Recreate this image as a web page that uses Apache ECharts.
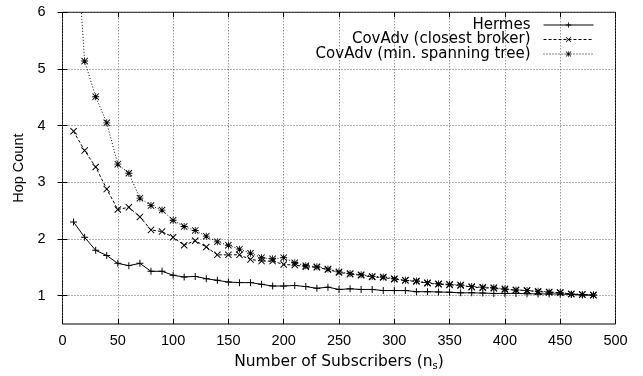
<!DOCTYPE html>
<html>
<head>
<meta charset="utf-8">
<script src="https://cdn.jsdelivr.net/npm/echarts@6/dist/echarts.min.js"></script>
<style>
  html, body { margin: 0; padding: 0; background: #fff; }
  #chart { width: 643px; height: 376px; }
</style>
</head>
<body>
<div id="chart"></div>
<script>
// subscribers on the x axis
const subscribers = [10, 20, 30, 40, 50, 60, 70, 80, 90, 100,
    110, 120, 130, 140, 150, 160, 170, 180, 190, 200,
    210, 220, 230, 240, 250, 260, 270, 280, 290, 300,
    310, 320, 330, 340, 350, 360, 370, 380, 390, 400,
    410, 420, 430, 440, 450, 460, 470, 480];

const hermes = [2.30, 2.03, 1.80, 1.71, 1.57, 1.53, 1.57, 1.43, 1.43, 1.36,
    1.33, 1.34, 1.30, 1.27, 1.24, 1.23, 1.23, 1.20, 1.17, 1.17,
    1.18, 1.16, 1.13, 1.15, 1.11, 1.12, 1.11, 1.11, 1.09, 1.09,
    1.09, 1.07, 1.07, 1.065, 1.06, 1.05, 1.05, 1.045, 1.04, 1.04,
    1.04, 1.035, 1.03, 1.03, 1.03, 1.02, 1.01, 1.01];

const covAdvClosest = [3.90, 3.56, 3.27, 2.88, 2.52, 2.56, 2.39, 2.16, 2.13, 2.03,
    1.89, 1.97, 1.86, 1.72, 1.72, 1.72, 1.64, 1.61, 1.61, 1.55,
    1.54, 1.51, 1.50, 1.46, 1.41, 1.38, 1.36, 1.33, 1.32, 1.29,
    1.27, 1.25, 1.22, 1.20, 1.19, 1.18, 1.15, 1.14, 1.13, 1.11,
    1.10, 1.09, 1.07, 1.06, 1.05, 1.03, 1.02, 1.01];

const covAdvMst = [8.05, 5.14, 4.51, 4.05, 3.32, 3.16, 2.72, 2.59, 2.51, 2.33,
    2.22, 2.15, 2.05, 1.95, 1.89, 1.82, 1.75, 1.67, 1.65, 1.67,
    1.58, 1.53, 1.51, 1.47, 1.42, 1.39, 1.37, 1.34, 1.33, 1.30,
    1.27, 1.26, 1.23, 1.21, 1.20, 1.19, 1.16, 1.15, 1.14, 1.12,
    1.10, 1.09, 1.08, 1.065, 1.055, 1.03, 1.02, 1.01];

const yTicks = [1, 2, 3, 4, 5, 6];
const seriesNames = ['Hermes', 'CovAdv (closest broker)', 'CovAdv (min. spanning tree)'];

const FONT = 'Liberation Sans';
const WIDE_FONT = 'DejaVu Sans';

// gnuplot style point marks
const PLUS = 'path://M4.3,0 H5.7 V4.3 H10 V5.7 H5.7 V10 H4.3 V5.7 H0 V4.3 H4.3 Z';
const CROSS = 'path://M0,1 L1,0 L5,4 L9,0 L10,1 L6,5 L10,9 L9,10 L5,6 L1,10 L0,9 L4,5 Z';
const STAR = 'path://M4.4,0 H5.6 V4.4 H10 V5.6 H5.6 V10 H4.4 V5.6 H0 V4.4 H4.4 Z M0,0.9 L0.9,0 L5,4.1 L9.1,0 L10,0.9 L5.9,5 L10,9.1 L9.1,10 L5,5.9 L0.9,10 L0,9.1 L4.1,5 Z';

function pairs(vals) {
    return subscribers.map((x, i) => [x, vals[i]]);
}

const chart = echarts.init(document.getElementById('chart'));

const dotted = { color: '#666', width: 1, type: [1, 2] };

function legendFor(name, top) {
    return {
        data: [name],
        right: 49,
        top: top,
        padding: 0,
        align: 'right',
        itemWidth: 50,
        itemHeight: 7,
        selectedMode: false,
        lineStyle: { width: 1 },
        textStyle: {
            fontFamily: WIDE_FONT, fontSize: 15, color: '#000',
            lineHeight: 14, padding: [0, 8, 0, 0]
        }
    };
}

const option = {
    animation: false,
    backgroundColor: '#fff',
    grid: {
        left: 62.5, right: 27.5, top: 12.3, bottom: 50.5,
        show: true, borderColor: '#000', borderWidth: 1
    },
    legend: [
        legendFor(seriesNames[0], 17.5),
        legendFor(seriesNames[1], 32),
        legendFor(seriesNames[2], 46.5)
    ],
    xAxis: [{
        type: 'value',
        min: 0, max: 500, interval: 50,
        name: 'Number of Subscribers (n{sub|s})',
        nameLocation: 'middle',
        nameGap: 28,
        nameTextStyle: {
            fontFamily: WIDE_FONT, fontSize: 15.5, color: '#000',
            rich: { sub: { fontFamily: WIDE_FONT, fontSize: 10, verticalAlign: 'bottom', padding: [9, 0, 0, 0] } }
        },
        axisLine: { show: false },
        axisTick: { inside: true, length: 5, lineStyle: { color: '#000' } },
        axisLabel: { margin: 9, fontFamily: FONT, fontSize: 14.5, color: '#000' },
        splitLine: { show: true, lineStyle: dotted }
    }, {
        type: 'value', position: 'top',
        min: 0, max: 500, interval: 50,
        axisLine: { show: false },
        axisTick: { inside: true, length: 5, lineStyle: { color: '#000' } },
        axisLabel: { show: false },
        splitLine: { show: false }
    }],
    yAxis: [{
        type: 'value',
        min: 0.5, max: 6, interval: 0.5,
        name: 'Hop Count',
        nameLocation: 'middle',
        nameGap: 33,
        nameTextStyle: { fontFamily: FONT, fontSize: 14.5, color: '#000' },
        axisLine: { show: false },
        axisTick: { inside: true, length: 5, customValues: yTicks, lineStyle: { color: '#000' } },
        axisLabel: { margin: 17, customValues: yTicks, fontFamily: FONT, fontSize: 14.5, color: '#000' },
        splitLine: { show: true, lineStyle: dotted }
    }, {
        type: 'value', position: 'right',
        min: 0.5, max: 6, interval: 0.5,
        axisLine: { show: false },
        axisTick: { inside: true, length: 5, customValues: yTicks, lineStyle: { color: '#000' } },
        axisLabel: { show: false },
        splitLine: { show: false }
    }],
    series: [{
        name: seriesNames[0],
        type: 'line',
        data: pairs(hermes),
        symbol: PLUS, symbolSize: 7,
        itemStyle: { color: '#000' },
        lineStyle: { color: '#000', width: 1 },
        z: 4
    }, {
        name: seriesNames[1],
        type: 'line',
        data: pairs(covAdvClosest),
        symbol: CROSS, symbolSize: 7,
        itemStyle: { color: '#000' },
        lineStyle: { color: '#000', width: 1, type: [3, 2] },
        z: 3
    }, {
        name: seriesNames[2],
        type: 'line',
        data: pairs(covAdvMst),
        symbol: STAR, symbolSize: 7,
        itemStyle: { color: '#000' },
        lineStyle: { color: '#000', width: 1, type: [1, 2] },
        z: 2
    }]
};

chart.setOption(option);
</script>
</body>
</html>
